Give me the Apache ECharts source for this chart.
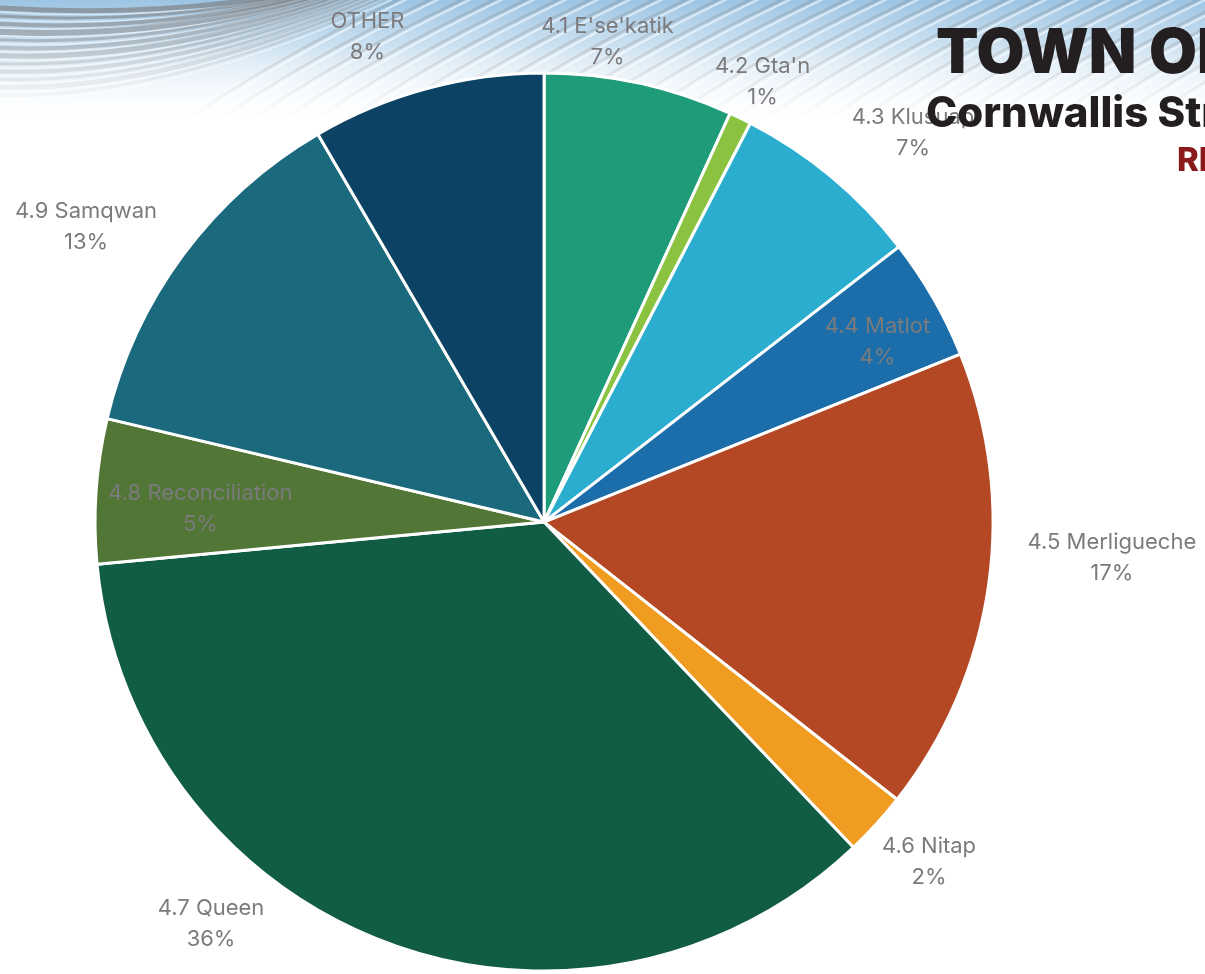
<!DOCTYPE html>
<html>
<head>
<meta charset="utf-8">
<title>Cornwallis Street</title>
<script src="https://cdn.jsdelivr.net/npm/echarts@6/dist/echarts.min.js"></script>
<style>
  html, body { margin: 0; padding: 0; background: #ffffff; }
  #chart { width: 1205px; height: 974px; }
</style>
</head>
<body>
<div id="chart"></div>
<script>
// Street name options and their share of responses
const categories = [
  "4.1 E'se'katik", "4.2 Gta'n", "4.3 Klusuap", "4.4 Matlot", "4.5 Merligueche",
  "4.6 Nitap", "4.7 Queen", "4.8 Reconciliation", "4.9 Samqwan", "OTHER"
];
const shares = [6.8, 0.8, 6.9, 4.4, 16.7, 2.3, 35.6, 5.2, 12.9, 8.4];

const sliceColors = [
  '#1e9b78', '#8bc23f', '#2aadce', '#1b6ea9', '#b54824',
  '#f09c21', '#115c45', '#527635', '#1b697c', '#0c4264'
];

// Label placement: [radius as a multiple of the pie radius, angular nudge in degrees]
const labelPlacement = [
  [1.078, -4.7], [1.094, 0.5], [1.194, 3.7], [0.844, 1.5], [1.267, -4.5],
  [1.143, -0.9], [1.163, 19.1], [0.766, -1.7], [1.214, -3.7], [1.149, -4.9]
];

const CENTER = [45.15, 53.6];   // percent of width / height
const RADIUS = 92.2;            // percent of half the shorter side

const chart = echarts.init(document.getElementById('chart'), null, { renderer: 'canvas' });
const W = chart.getWidth(), H = chart.getHeight();

// Cumulative mid angles (degrees clockwise from 12 o'clock)
const total = shares.reduce((a, b) => a + b, 0);
const midAngles = [];
let acc = 0;
shares.forEach(v => { midAngles.push((acc + v / 2) / total * 360); acc += v; });

// Decorative header band: pale sky gradient with sweeping frond strokes
const deco = [];
deco.push({
  type: 'rect', z: -10, silent: true,
  shape: { x: 0, y: 0, width: W, height: 140 },
  style: { fill: new echarts.graphic.LinearGradient(0, 0, 0, 1, [
    { offset: 0, color: '#9cc4e3' }, { offset: 0.45, color: '#d2e5f3' }, { offset: 1, color: '#ffffff' }
  ]) }
});
// dense grey fronds at the upper left
const frondWidths = [5, 3, 4, 6, 3, 4, 5, 3, 4, 3, 5, 3];
for (let i = 0; i < frondWidths.length; i++) {
  const y0 = 6 + i * 8;
  deco.push({
    type: 'bezierCurve', z: -9, silent: true,
    shape: { x1: -30, y1: y0, cpx1: 150, cpy1: y0 + 14, x2: 300 + i * 9, y2: -8 },
    style: { stroke: 'rgba(118,118,118,' + (0.62 - i * 0.04) + ')', lineWidth: frondWidths[i], fill: null }
  });
  deco.push({
    type: 'bezierCurve', z: -9, silent: true,
    shape: { x1: -30, y1: y0 + 4, cpx1: 150, cpy1: y0 + 18, x2: 303 + i * 9, y2: -5 },
    style: { stroke: 'rgba(255,255,255,0.5)', lineWidth: 1.5, fill: null }
  });
}
// lighter diagonal strokes across the rest of the band
for (let i = 0; i < 34; i++) {
  const x0 = 180 + i * 32;
  deco.push({
    type: 'bezierCurve', z: -9, silent: true,
    shape: { x1: x0, y1: 125, cpx1: x0 + 90, cpy1: 60, x2: x0 + 230, y2: -6 },
    style: { stroke: 'rgba(125,125,125,0.3)', lineWidth: 2.5, fill: null }
  });
  deco.push({
    type: 'bezierCurve', z: -9, silent: true,
    shape: { x1: x0 + 8, y1: 125, cpx1: x0 + 98, cpy1: 60, x2: x0 + 238, y2: -6 },
    style: { stroke: 'rgba(255,255,255,0.6)', lineWidth: 2, fill: null }
  });
}
// fade the band into the white page
deco.push({
  type: 'rect', z: -8, silent: true,
  shape: { x: 0, y: 0, width: W, height: 150 },
  style: { fill: new echarts.graphic.LinearGradient(0, 0, 0, 1, [
    { offset: 0, color: 'rgba(255,255,255,0)' }, { offset: 0.3, color: 'rgba(255,255,255,0.15)' },
    { offset: 0.8, color: 'rgba(255,255,255,1)' }, { offset: 1, color: 'rgba(255,255,255,1)' }
  ]) }
});

// Heading text (runs past the right edge of the page)
const headings = [
  { type: 'text', z: 50, left: 936, top: 23,
    style: { text: 'TOWN OF LUNENBURG', fill: '#231f20', font: '900 62px Inter, "Open Sans", sans-serif' } },
  { type: 'text', z: 50, left: 926, top: 93,
    style: { text: 'Cornwallis Street', fill: '#231f20', font: '800 42px Inter, "Open Sans", sans-serif' } },
  { type: 'text', z: 50, left: 1177, top: 145,
    style: { text: 'RESULTS', fill: '#8b1a1a', font: '800 33px Inter, "Open Sans", sans-serif' } }
];

const option = {
  backgroundColor: '#ffffff',
  animation: false,
  graphic: { elements: deco.concat(headings) },
  series: [{
    type: 'pie',
    center: [CENTER[0] + '%', CENTER[1] + '%'],
    radius: RADIUS + '%',
    startAngle: 90,
    clockwise: true,
    avoidLabelOverlap: false,
    percentPrecision: 0,
    itemStyle: { borderColor: '#ffffff', borderWidth: 3 },
    label: {
      show: true,
      position: 'outside',
      formatter: '{b}\n{d}%',
      color: '#7b7b7e',
      fontFamily: 'Inter, Roboto, sans-serif',
      fontSize: 22,
      lineHeight: 31,
      align: 'center'
    },
    labelLine: { show: false },
    labelLayout: function (params) {
      const i = params.dataIndex;
      const cx = W * CENTER[0] / 100, cy = H * CENTER[1] / 100;
      const R = Math.min(W, H) / 2 * RADIUS / 100;
      const a = (midAngles[i] + labelPlacement[i][1]) * Math.PI / 180;
      const r = R * labelPlacement[i][0];
      return {
        x: cx + r * Math.sin(a),
        y: cy - r * Math.cos(a),
        align: 'center',
        verticalAlign: 'middle'
      };
    },
    data: categories.map((name, i) => ({
      name: name, value: shares[i], itemStyle: { color: sliceColors[i] }
    }))
  }]
};

chart.setOption(option);
</script>
</body>
</html>
